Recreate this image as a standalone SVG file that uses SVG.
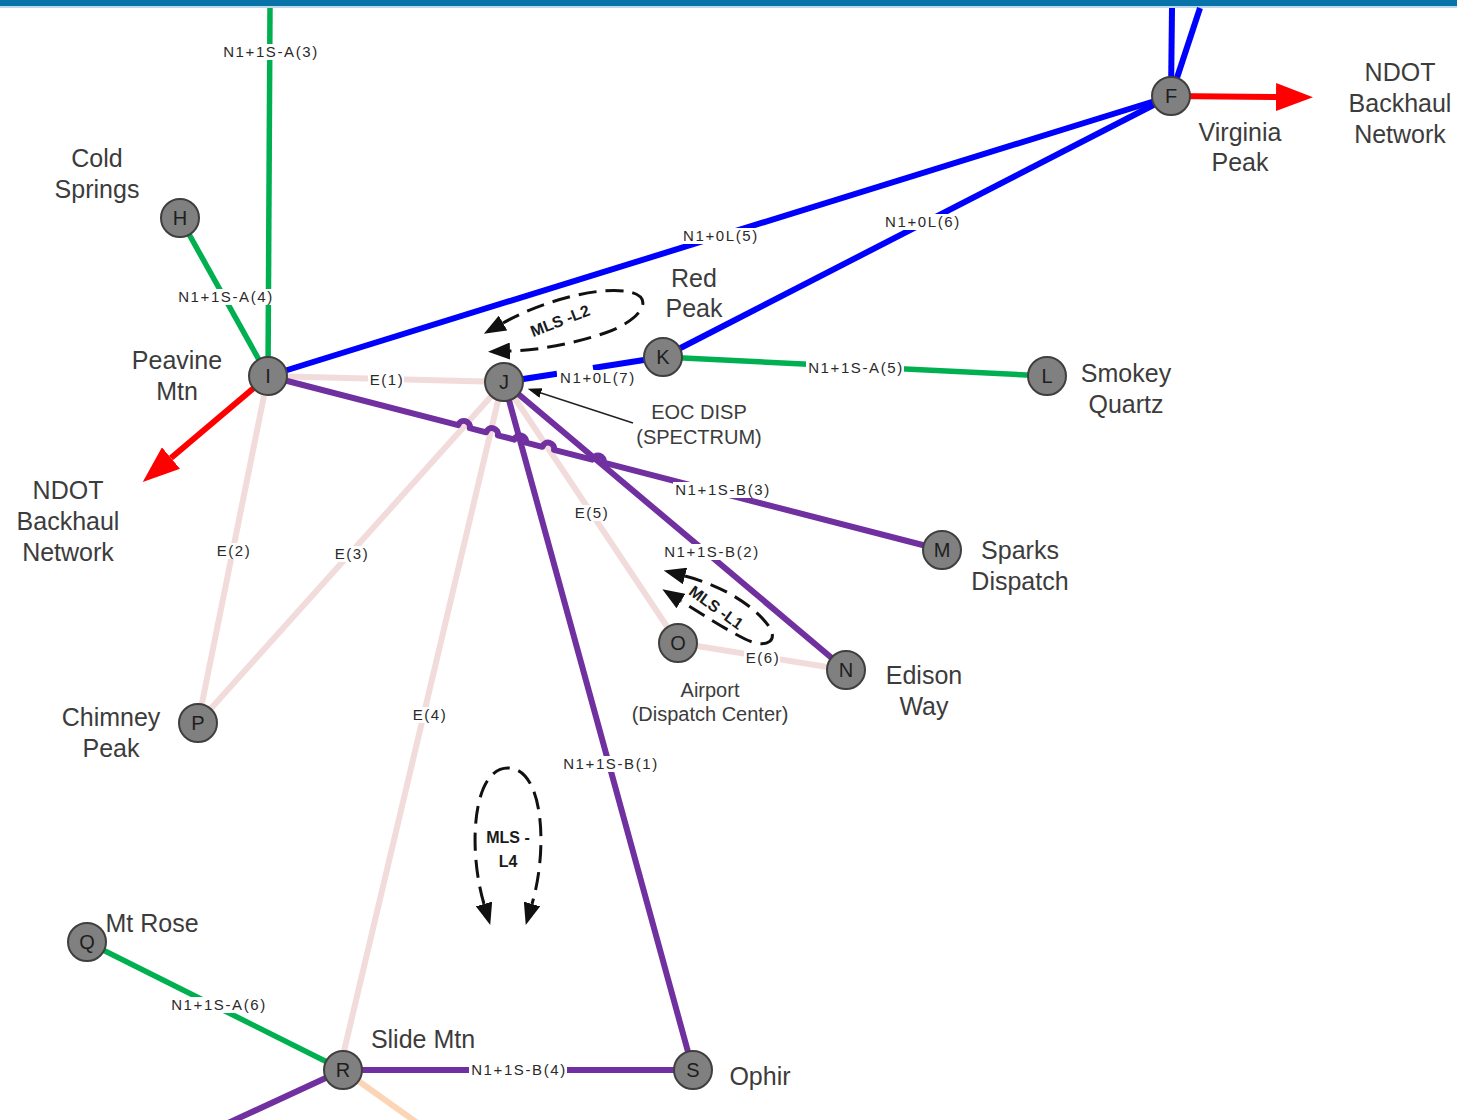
<svg xmlns="http://www.w3.org/2000/svg" width="1457" height="1120" viewBox="0 0 1457 1120">
<style>
.bg{fill:#ffffff}
.g{stroke:#00B050;stroke-width:5.5;fill:none}
.b{stroke:#0000FF;stroke-width:6;fill:none}
.p{stroke:#7030A0;stroke-width:6;fill:none;stroke-linejoin:round}
.e{stroke:#F2DCDB;stroke-width:6;fill:none}
.pe{stroke:#FBD5B5;stroke-width:6;fill:none}
.r{stroke:#FF0000;stroke-width:6;fill:none}
.mls{stroke:#111;stroke-width:3;fill:none;stroke-dasharray:18 9}
.node circle{fill:#808080;stroke:#3f3f3f;stroke-width:2}
.node text{font-family:"Liberation Sans",Arial,sans-serif;font-size:20px;fill:#1e1e1e;text-anchor:middle}
.lab{font-family:"Liberation Sans",Arial,sans-serif;font-size:25px;fill:#3c3c3c;text-anchor:middle}
.sm{font-family:"Liberation Sans",Arial,sans-serif;font-size:20px;fill:#3c3c3c;text-anchor:middle}
.el rect{fill:#ffffff}
.el text{font-family:"Liberation Sans",Arial,sans-serif;font-size:15px;letter-spacing:1.6px;fill:#2a2a2a;text-anchor:middle}
.mt{font-family:"Liberation Sans",Arial,sans-serif;font-size:16px;font-weight:bold;fill:#1a1a1a;text-anchor:middle}
</style>
<defs>
<marker id="ahRed" viewBox="0 0 37 28" refX="0" refY="14" markerWidth="37" markerHeight="28" markerUnits="userSpaceOnUse" orient="auto"><path d="M0,0 L37,14 L0,28 z" fill="#FF0000"/></marker>
<marker id="ahBlk" viewBox="0 0 22 17" refX="0" refY="8.5" markerWidth="22" markerHeight="17" markerUnits="userSpaceOnUse" orient="auto-start-reverse"><path d="M0,0 L22,8.5 L0,17 z" fill="#111"/></marker>
<marker id="ahThin" viewBox="0 0 14 10" refX="0" refY="5" markerWidth="14" markerHeight="10" markerUnits="userSpaceOnUse" orient="auto"><path d="M0,0 L14,5 L0,10 z" fill="#111"/></marker>
</defs>
<rect class="bg" x="0" y="0" width="1457" height="1120"/>
<rect x="0" y="0" width="1457" height="6" fill="#0873A8"/>
<rect x="0" y="6" width="1457" height="2" fill="#BCD8EA"/>

<g id="connectors">
  <line class="e" x1="268" y1="376" x2="504" y2="382"/>
  <line class="e" x1="268" y1="376" x2="198" y2="723"/>
  <line class="e" x1="504" y1="382" x2="198" y2="723"/>
  <line class="e" x1="502" y1="384" x2="340" y2="1068"/>
  <line class="e" x1="504" y1="382" x2="678" y2="643"/>
  <line class="e" x1="678" y1="643" x2="846" y2="670"/>
  <line class="pe" x1="343" y1="1070" x2="430" y2="1132"/>
  <line class="g" x1="270" y1="8" x2="268" y2="376"/>
  <line class="g" x1="180" y1="218" x2="268" y2="376"/>
  <line class="g" x1="663" y1="357" x2="1047" y2="376"/>
  <line class="g" x1="87" y1="942" x2="343" y2="1070"/>
  <path class="p" d="M268,376 L458.2,425.1 A6,6 0 0 1 469.8,428.1 L486.2,432.3 A6,6 0 0 1 497.8,435.3 L514.4,439.6 A6,6 0 0 1 526,442.6 L542.4,446.8 A6,6 0 0 1 554,449.8 L592.2,459.7 A6,6 0 0 1 603.8,462.7 L942,550"/>
  <line class="p" x1="504" y1="382" x2="846" y2="670"/>
  <line class="p" x1="504" y1="382" x2="693" y2="1070"/>
  <line class="p" x1="343" y1="1070" x2="693" y2="1070"/>
  <line class="p" x1="343" y1="1070" x2="200" y2="1136"/>
  <line class="b" x1="268" y1="376" x2="1171" y2="96"/>
  <line class="b" x1="663" y1="357" x2="1171" y2="96"/>
  <line class="b" x1="1172" y1="8" x2="1171" y2="96"/>
  <line class="b" x1="1200" y1="8" x2="1171" y2="96"/>
  <line class="b" x1="504" y1="382" x2="557" y2="373.7"/>
  <line class="b" x1="593" y1="368" x2="663" y2="357"/>
  <line class="r" x1="1171" y1="96" x2="1276" y2="97" marker-end="url(#ahRed)"/>
  <line class="r" x1="268" y1="376" x2="171" y2="458" marker-end="url(#ahRed)"/>
  <line x1="633" y1="423" x2="541" y2="393" stroke="#222" stroke-width="1.5" marker-end="url(#ahThin)"/>
  <path class="mls" d="M503,323 C540,302 600,285 630,292 C656,298 640,321 605,333 C572,344 540,350 510,351" marker-start="url(#ahBlk)" marker-end="url(#ahBlk)"/>
  <path class="mls" d="M685,576 C720,585 755,605 770,628 C778,642 765,649 745,639 C725,629 705,616 681,601" marker-start="url(#ahBlk)" marker-end="url(#ahBlk)"/>
  <path class="mls" d="M484,904 C468,850 472,768 508,768 C544,768 548,850 532,904" marker-start="url(#ahBlk)" marker-end="url(#ahBlk)"/>
</g>

<g id="edge-labels">
  <g class="el"><rect x="221" y="44" width="98" height="16"/><text x="271" y="57">N1+1S-A(3)</text></g>
  <g class="el"><rect x="176" y="289" width="98" height="16"/><text x="226" y="302">N1+1S-A(4)</text></g>
  <g class="el"><rect x="680" y="228" width="80" height="16"/><text x="721" y="241">N1+0L(5)</text></g>
  <g class="el"><rect x="882" y="214" width="80" height="16"/><text x="923" y="227">N1+0L(6)</text></g>
  <g class="el"><rect x="557" y="370" width="80" height="16"/><text x="598" y="383">N1+0L(7)</text></g>
  <g class="el"><rect x="806" y="360" width="98" height="16"/><text x="856" y="373">N1+1S-A(5)</text></g>
  <g class="el"><rect x="368" y="372" width="36" height="16"/><text x="387" y="385">E(1)</text></g>
  <g class="el"><rect x="673" y="482" width="98" height="16"/><text x="723" y="495">N1+1S-B(3)</text></g>
  <g class="el"><rect x="662" y="544" width="98" height="16"/><text x="712" y="557">N1+1S-B(2)</text></g>
  <g class="el"><rect x="573" y="505" width="36" height="16"/><text x="592" y="518">E(5)</text></g>
  <g class="el"><rect x="744" y="650" width="36" height="16"/><text x="763" y="663">E(6)</text></g>
  <g class="el"><rect x="215" y="543" width="36" height="16"/><text x="234" y="556">E(2)</text></g>
  <g class="el"><rect x="333" y="546" width="36" height="16"/><text x="352" y="559">E(3)</text></g>
  <g class="el"><rect x="411" y="707" width="36" height="16"/><text x="430" y="720">E(4)</text></g>
  <g class="el"><rect x="561" y="756" width="98" height="16"/><text x="611" y="769">N1+1S-B(1)</text></g>
  <g class="el"><rect x="169" y="997" width="98" height="16"/><text x="219" y="1010">N1+1S-A(6)</text></g>
  <g class="el"><rect x="469" y="1062" width="98" height="16"/><text x="519" y="1075">N1+1S-B(4)</text></g>
</g>

<g id="mls-labels">
  <text class="mt" transform="translate(562,326) rotate(-21)">MLS -L2</text>
  <text class="mt" transform="translate(713,612) rotate(36)">MLS -L1</text>
  <text class="mt" x="508" y="843">MLS -</text>
  <text class="mt" x="508" y="867">L4</text>
</g>

<g id="node-F" class="node"><circle cx="1171" cy="96" r="19"/><text x="1171" y="103">F</text></g>
<g id="node-H" class="node"><circle cx="180" cy="218" r="19"/><text x="180" y="225">H</text></g>
<g id="node-I" class="node"><circle cx="268" cy="376" r="19"/><text x="268" y="383">I</text></g>
<g id="node-J" class="node"><circle cx="504" cy="382" r="19"/><text x="504" y="389">J</text></g>
<g id="node-K" class="node"><circle cx="663" cy="357" r="19"/><text x="663" y="364">K</text></g>
<g id="node-L" class="node"><circle cx="1047" cy="376" r="19"/><text x="1047" y="383">L</text></g>
<g id="node-M" class="node"><circle cx="942" cy="550" r="19"/><text x="942" y="557">M</text></g>
<g id="node-N" class="node"><circle cx="846" cy="670" r="19"/><text x="846" y="677">N</text></g>
<g id="node-O" class="node"><circle cx="678" cy="643" r="19"/><text x="678" y="650">O</text></g>
<g id="node-P" class="node"><circle cx="198" cy="723" r="19"/><text x="198" y="730">P</text></g>
<g id="node-Q" class="node"><circle cx="87" cy="942" r="19"/><text x="87" y="949">Q</text></g>
<g id="node-R" class="node"><circle cx="343" cy="1070" r="19"/><text x="343" y="1077">R</text></g>
<g id="node-S" class="node"><circle cx="693" cy="1070" r="19"/><text x="693" y="1077">S</text></g>

<g id="labels">
  <text class="lab" x="97" y="167">Cold</text><text class="lab" x="97" y="198">Springs</text>
  <text class="lab" x="177" y="369">Peavine</text><text class="lab" x="177" y="400">Mtn</text>
  <text class="lab" x="68" y="499">NDOT</text><text class="lab" x="68" y="530">Backhaul</text><text class="lab" x="68" y="561">Network</text>
  <text class="lab" x="694" y="287">Red</text><text class="lab" x="694" y="317">Peak</text>
  <text class="lab" x="1126" y="382">Smokey</text><text class="lab" x="1126" y="413">Quartz</text>
  <text class="sm" x="699" y="419">EOC DISP</text><text class="sm" x="699" y="444">(SPECTRUM)</text>
  <text class="lab" x="1020" y="559">Sparks</text><text class="lab" x="1020" y="590">Dispatch</text>
  <text class="lab" x="924" y="684">Edison</text><text class="lab" x="924" y="715">Way</text>
  <text class="sm" x="710" y="697">Airport</text><text class="sm" x="710" y="721">(Dispatch Center)</text>
  <text class="lab" x="111" y="726">Chimney</text><text class="lab" x="111" y="757">Peak</text>
  <text class="lab" x="152" y="932">Mt Rose</text>
  <text class="lab" x="423" y="1048">Slide Mtn</text>
  <text class="lab" x="760" y="1085">Ophir</text>
  <text class="lab" x="1240" y="141">Virginia</text><text class="lab" x="1240" y="171">Peak</text>
  <text class="lab" x="1400" y="81">NDOT</text><text class="lab" x="1400" y="112">Backhaul</text><text class="lab" x="1400" y="143">Network</text>
</g>
</svg>
